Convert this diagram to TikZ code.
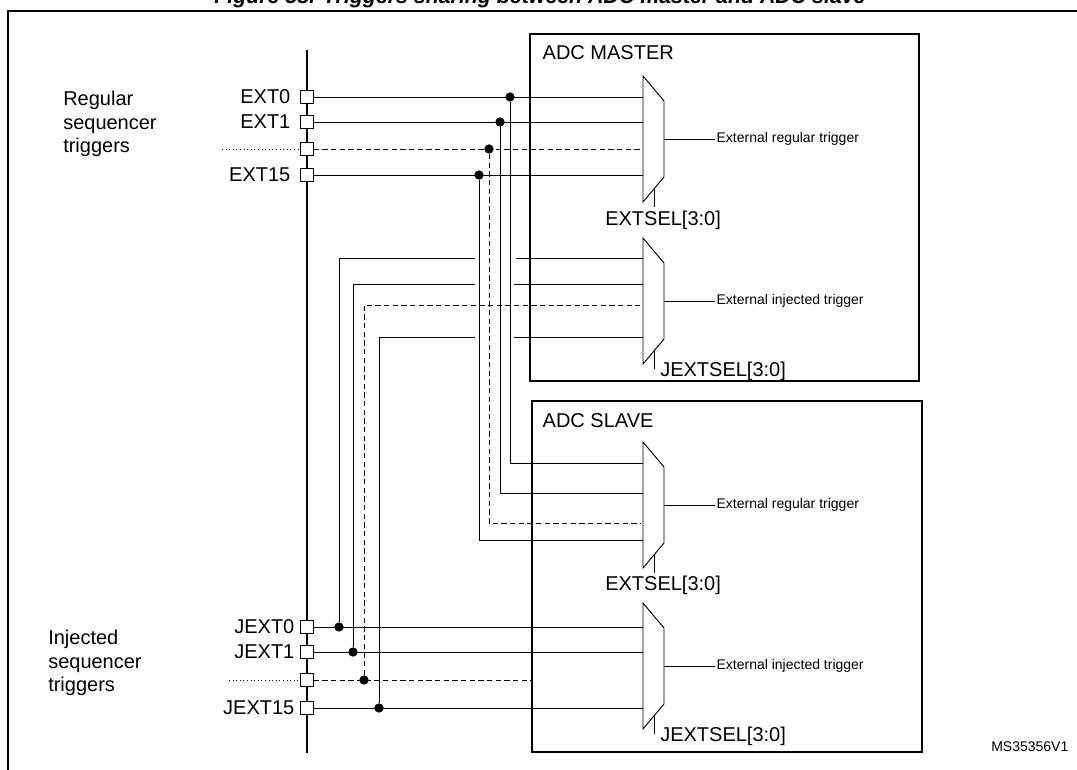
\documentclass[tikz,border=0pt]{standalone}
\usepackage{fontspec}
\setmainfont{Liberation Sans}
\usetikzlibrary{positioning}

\tikzset{
  pin/.style={draw,fill=white,minimum size=9.5pt,inner sep=0pt},
  jn/.style={circle,fill=black,inner sep=0pt,minimum size=7pt},
  big/.style={font=\fontsize{15}{17.5}\selectfont},
  small/.style={font=\fontsize{10.5}{12}\selectfont},
  box/.style={line width=1.5pt},
  wire/.style={line width=0.7pt},
  dwire/.style={line width=0.7pt,dash pattern=on 4pt off 2.5pt},
}

% multiplexer: name, top y, output label, select label x, dy, text
\newcommand{\muxblk}[6]{
  \draw[wire] (643,#2) -- (664,#2+25) -- (664,#2+101) -- (643,#2+126) -- cycle;
  \draw[wire] (654,#2+113) -- (654,#2+131);
  \coordinate (#1-out) at (664,#2+63);
  \node[small,anchor=west,inner sep=1pt] (#1-lab) at (715,#2+63) {#3};
  \draw[wire] (#1-out) -- (#1-lab.west);
  \node[big,anchor=west,inner sep=0pt] (#1-sel) at (#4,#2+#5) {#6};
}

\begin{document}
\begin{tikzpicture}[x=0.75pt,y=-0.75pt]
  \useasboundingbox (0,0) rectangle (1077,770);
  \node[anchor=base,font=\fontsize{16}{18}\selectfont\bfseries\itshape] (title) at (540,4)
    {Figure 58. Triggers sharing between ADC master and ADC slave};
  \draw[line width=1.3pt] (8,770) -- (8,11) -- (1077,11);

  % ADC boxes
  \draw[box] (530,34) rectangle (919,381);
  \node[big,anchor=west] (mlab) at (538,53) {ADC MASTER};
  \draw[box] (532,401) rectangle (922,752);
  \node[big,anchor=west] (slab) at (538,421) {ADC SLAVE};

  \muxblk{mr}{76}{External regular trigger}{605}{144}{EXTSEL[3:0]}
  \muxblk{mj}{238}{External injected trigger}{660}{133}{JEXTSEL[3:0]}
  \muxblk{sr}{442}{External regular trigger}{605}{143}{EXTSEL[3:0]}
  \muxblk{sj}{603}{External injected trigger}{660}{133}{JEXTSEL[3:0]}

  % trigger bus
  \draw[line width=1.3pt] (307,50) -- (307,753);
  \node[pin] (e0)  at (307,97)  {};
  \node[pin] (e1)  at (307,122) {};
  \node[pin] (ed)  at (307,149) {};
  \node[pin] (e15) at (307,175) {};
  \node[pin] (j0)  at (307,627) {};
  \node[pin] (j1)  at (307,652) {};
  \node[pin] (jd)  at (307,680) {};
  \node[pin] (j15) at (307,708) {};
  \node[big,left=4pt of e0]  {EXT0};
  \node[big,left=4pt of e1]  {EXT1};
  \node[big,left=4pt of e15] {EXT15};
  \node[big,left=1pt of j0]  {JEXT0};
  \node[big,left=1pt of j1]  {JEXT1};
  \node[big,left=1pt of j15] {JEXT15};
  \draw[wire,dotted] (222,149) -- (ed.west);
  \draw[wire,dotted] (229,680) -- (jd.west);
  \node[big,align=left,anchor=north west,inner sep=0pt] (reg) at (63,91) {Regular\\sequencer\\triggers};
  \node[big,align=left,anchor=north west,inner sep=0pt] (inj) at (48,630) {Injected\\sequencer\\triggers};

  % regular triggers
  \node[jn] (de0)  at (510,97)  {};
  \node[jn] (de1)  at (500,122) {};
  \node[jn] (ded)  at (489,149) {};
  \node[jn] (de15) at (479,175) {};
  \draw[wire]  (e0.east)  -- (643,97);
  \draw[wire]  (e1.east)  -- (643,122);
  \draw[dwire] (ed.east)  -- (640,149);
  \draw[wire]  (e15.east) -- (643,175);
  \draw[wire]  (de0)  |- (643,463);
  \draw[wire]  (de1)  |- (643,493);
  \draw[dwire] (ded)  |- (640,523);
  \draw[wire]  (de15) |- (643,540);

  % injected triggers
  \node[jn] (dj0)  at (339,627) {};
  \node[jn] (dj1)  at (353,652) {};
  \node[jn] (djd)  at (364,680) {};
  \node[jn] (dj15) at (379,708) {};
  \draw[wire]  (j0.east)  -- (643,627);
  \draw[wire]  (j1.east)  -- (643,652);
  \draw[dwire] (jd.east)  -- (532,680);
  \draw[wire]  (j15.east) -- (643,708);
  \draw[wire]  (dj0)  |- (475,258);
  \draw[wire]  (516,258) -- (643,258);
  \draw[wire]  (dj1)  |- (475,284);
  \draw[wire]  (514,284) -- (643,284);
  \draw[dwire] (djd)  |- (640,305);
  \draw[wire]  (dj15) |- (475,337);
  \draw[wire]  (514,337) -- (643,337);

  \node[small,anchor=east] (ref) at (1073,747) {MS35356V1};
\end{tikzpicture}
\end{document}
